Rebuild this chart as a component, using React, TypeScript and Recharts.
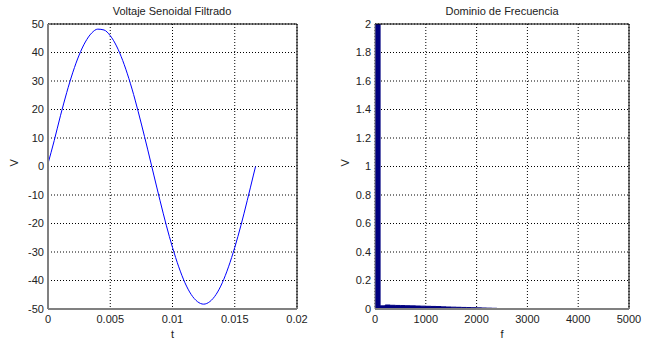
import React from 'react';
import {
  ComposedChart, Line, Area, XAxis, YAxis, CartesianGrid, ReferenceLine,
} from 'recharts';

const timeValues = [0, 0.0005, 0.001, 0.0015, 0.002, 0.0025, 0.003, 0.0035, 0.004, 0.0045, 0.005, 0.0055, 0.006, 0.0065, 0.007, 0.0075, 0.008, 0.0085, 0.009, 0.0095, 0.01, 0.0105, 0.011, 0.0115, 0.012, 0.0125, 0.013, 0.0135, 0.014, 0.0145, 0.015, 0.0155, 0.016, 0.0165, 0.01667];
const voltageValues = [1, 9.1, 17.8, 25.9, 33.1, 39.1, 43.7, 46.8, 48.2, 47.9, 45.9, 42.3, 37.2, 30.8, 23.3, 14.9, 6.1, -3.0, -12.0, -20.6, -28.4, -35.2, -40.8, -44.9, -47.4, -48.3, -47.4, -44.9, -40.8, -35.2, -28.4, -20.6, -12.0, -3.0, 0];

const freqValues = [0, 100, 200, 300, 400, 500, 600, 700, 800, 900, 1000, 1100, 1200, 1300, 1400, 1500, 1600, 1700, 1800, 1900, 2000, 2100, 2200, 2300, 2400, 2500, 3000, 4000, 5000];
const magnitudeValues = [2.6, 0.022, 0.028, 0.026, 0.025, 0.024, 0.023, 0.022, 0.021, 0.02, 0.019, 0.018, 0.017, 0.015, 0.014, 0.013, 0.012, 0.011, 0.01, 0.009, 0.008, 0.007, 0.006, 0.005, 0.003, 0, 0, 0, 0];

const timeTicks = [0, 0.005, 0.01, 0.015, 0.02];
const voltTicks = [-50, -40, -30, -20, -10, 0, 10, 20, 30, 40, 50];
const freqTicks = [0, 1000, 2000, 3000, 4000, 5000];
const magTicks = [0, 0.2, 0.4, 0.6, 0.8, 1, 1.2, 1.4, 1.6, 1.8, 2];

const timeData = timeValues.map((t, i) => ({ t, v: voltageValues[i] }));
const freqData = freqValues.map((f, i) => ({ f, m: magnitudeValues[i] }));

const FONT = '"Liberation Sans", Arial, sans-serif';
const tickStyle = { fontSize: 11, fill: '#222', fontFamily: FONT };

const titleStyle = (left: number): React.CSSProperties => ({
  position: 'absolute', left, top: 4, width: 260, textAlign: 'center',
  fontSize: 11, fontFamily: FONT, color: '#222', lineHeight: '14px',
});

export default function App() {
  return (
    <div style={{ position: 'absolute', left: 0, top: 0, width: 648, height: 340, background: '#fff' }}>
      <div style={titleStyle(42)}>Voltaje Senoidal Filtrado</div>
      <div style={titleStyle(372)}>Dominio de Frecuencia</div>
      <div style={{ position: 'absolute', left: 0, top: 0 }}>
        <ComposedChart width={324} height={340} data={timeData} margin={{ top: 24, right: 27, bottom: 0, left: 0 }}>
          <CartesianGrid stroke="#000" strokeDasharray="1 2" verticalValues={timeTicks} horizontalValues={voltTicks} />
          <XAxis dataKey="t" type="number" domain={[0, 0.02]} ticks={timeTicks} height={31}
            tickLine={false} tickSize={4} tickMargin={2} tick={tickStyle}
            axisLine={{ stroke: '#808080', strokeWidth: 2 }}
            label={{ value: 't', position: 'insideBottom', offset: 2, style: tickStyle }} />
          <YAxis type="number" domain={[-50, 50]} ticks={voltTicks} width={48}
            tickLine={false} tickSize={2} tickMargin={2} tick={tickStyle}
            axisLine={{ stroke: '#808080', strokeWidth: 2 }}
            label={{ value: 'V', angle: -90, position: 'insideLeft', offset: 14, style: tickStyle }} />
          <ReferenceLine y={50} stroke="#000" />
          <ReferenceLine x={0.02} stroke="#000" />
          <Line dataKey="v" type="monotone" stroke="#0000ff" strokeWidth={1} dot={false} isAnimationActive={false} />
        </ComposedChart>
      </div>
      <div style={{ position: 'absolute', left: 324, top: 0 }}>
        <ComposedChart width={324} height={340} data={freqData} margin={{ top: 24, right: 19, bottom: 0, left: 0 }}>
          <CartesianGrid stroke="#000" strokeDasharray="1 2" verticalValues={freqTicks} horizontalValues={magTicks} />
          <XAxis dataKey="f" type="number" domain={[0, 5000]} ticks={freqTicks} height={31}
            tickLine={false} tickSize={4} tickMargin={2} tick={tickStyle}
            axisLine={{ stroke: '#808080', strokeWidth: 2 }}
            label={{ value: 'f', position: 'insideBottom', offset: 2, style: tickStyle }} />
          <YAxis type="number" domain={[0, 2]} ticks={magTicks} width={51} allowDataOverflow
            tickLine={false} tickSize={2} tickMargin={2} tick={tickStyle}
            axisLine={{ stroke: '#808080', strokeWidth: 1 }}
            label={{ value: 'V', angle: -90, position: 'insideLeft', offset: 21, style: tickStyle }} />
          <Area dataKey="m" type="stepAfter" stroke="#000080" fill="#000080" fillOpacity={1} strokeWidth={1} isAnimationActive={false} />
          <ReferenceLine y={2} stroke="#000" />
          <ReferenceLine x={5000} stroke="#000" />
        </ComposedChart>
      </div>
    </div>
  );
}
